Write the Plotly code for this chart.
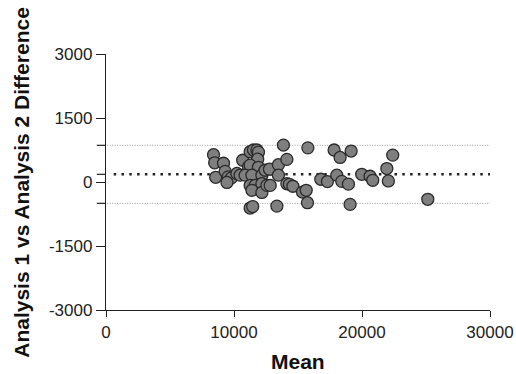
import plotly.graph_objects as go

# Bland-Altman data
mean_vals = [8400, 8490, 9180, 8570, 9310, 9550, 9780, 9450, 10230, 10480,
             10680, 11130, 11260, 11520, 11790, 11910, 11850, 11260, 11910, 10870,
             11400, 12180, 11260, 11650, 12180, 11400, 12180, 12570, 12430, 12770,
             12830, 11260, 11460, 13470, 13470, 13860, 14130, 14130, 14330, 14600,
             13350, 15350, 15640, 15770, 15740, 16780, 17300, 17820, 18290, 19150,
             18030, 18420, 18940, 19980, 20630, 20840, 21940, 22060, 22400, 19070,
             25140]
diff_vals = [640, 450, 440, 110, 250, 120, 90, -10, 200, 160,
             510, 355, 710, 750, 750, 700, 535, 395, 345, 160,
             160, 160, -80, -80, -40, -195, -245, -80, 275, 300,
             -80, -610, -575, 405, 160, 865, 530, -40, -55, -100,
             -565, -235, -195, 800, -485, 65, 10, 750, 575, 725,
             160, 15, -50, 180, 135, 40, 315, 25, 630, -525,
             -405]

bias = 180
upper_loa = 860
lower_loa = -500

x_ticks = [0, 10000, 20000, 30000]
y_ticks = [-3000, -1500, 0, 1500, 3000]

FONT = "Liberation Sans, Arial, sans-serif"

fig = go.Figure()
fig.add_trace(go.Scatter(
    x=mean_vals, y=diff_vals, mode="markers",
    marker=dict(size=12, color="#7f7f7f", line=dict(color="#2b2b2b", width=1.3)),
    showlegend=False, cliponaxis=False,
))

shapes = []
for val, col, w, dash in [(upper_loa, "#9a9a9a", 1, "1px,1.5px"),
                          (lower_loa, "#9a9a9a", 1, "1px,1.5px"),
                          (bias, "#222222", 2.5, "2.5px,5.3px")]:
    shapes.append(dict(type="line", xref="paper", yref="y", x0=0.02 if val == bias else 0.003,
                       x1=1, y0=val, y1=val, line=dict(color=col, width=w, dash=dash), layer="below"))
    # small tick on the y axis
    shapes.append(dict(type="line", xref="paper", yref="y", x0=-0.024, x1=0,
                       y0=val, y1=val, line=dict(color="#222222", width=1.2)))

fig.update_layout(
    width=516, height=374,
    margin=dict(l=106, r=26, t=54, b=64),
    paper_bgcolor="white", plot_bgcolor="white",
    font=dict(family=FONT, size=17, color="#222222"),
    shapes=shapes,
    xaxis=dict(range=[0, 30000], tickvals=x_ticks, ticktext=[str(v) for v in x_ticks],
               showgrid=False, zeroline=False, showline=True, linecolor="#222222", linewidth=1.3,
               ticks="outside", ticklen=6, tickwidth=1.3, tickcolor="#222222", automargin=False),
    yaxis=dict(range=[-3000, 3000], tickvals=y_ticks, ticktext=[str(v) for v in y_ticks],
               showgrid=False, zeroline=False, showline=True, linecolor="#222222", linewidth=1.3,
               ticks="outside", ticklen=9, tickwidth=1.3, tickcolor="#222222", automargin=False),
    annotations=[
        dict(text="<b>Mean</b>", xref="paper", yref="paper", x=0.5, y=-0.2,
             xanchor="center", yanchor="middle", showarrow=False,
             font=dict(family=FONT, size=21, color="#111111")),
        dict(text="<b>Analysis 1 vs Analysis 2 Difference</b>", xref="paper", yref="paper",
             x=-0.222, y=0.5, textangle=-90, xanchor="center", yanchor="middle",
             showarrow=False, font=dict(family=FONT, size=21, color="#111111")),
    ],
)

fig.write_html("out.html", config={"displayModeBar": False},
               post_script="document.body.style.margin='0';document.body.style.overflow='hidden';")
